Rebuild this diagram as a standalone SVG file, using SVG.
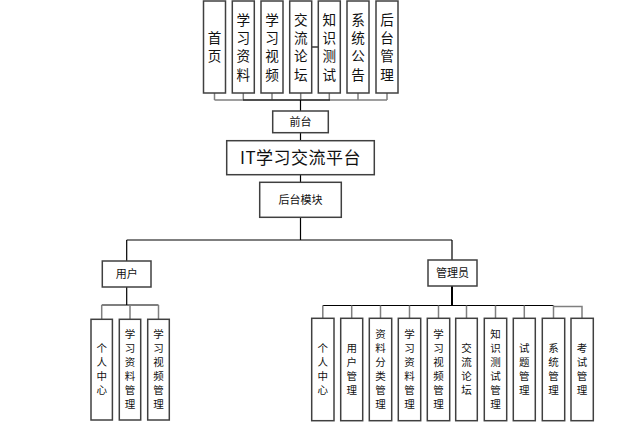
<svg xmlns="http://www.w3.org/2000/svg" width="635" height="432" viewBox="0 0 635 432">
<style>
.box{fill:#fff;stroke:#404040;stroke-width:1.5}
.t{font-family:"Noto Sans CJK SC",sans-serif;fill:#111;text-anchor:middle}
.top{font-size:13.6px}
.mid{font-size:11px}
.big{font-size:17px}
.bot{font-size:10.5px}
.k{stroke:#000;stroke-width:1.2;fill:none}
.g{stroke:#7f7f7f;stroke-width:1.5;fill:none}
</style>
<rect width="635" height="432" fill="#fff"/>
<g id="connectors">
<path class="g" d="M214.5 93V100M243.3 93V100M272 93V100M300.7 93V100M329.3 93V100M358 93V100M387 93V100M214.5 100H387"/>
<path class="k" d="M243 100H330"/>
<path class="k" d="M311.7 47H318.3"/>
<path class="k" d="M300.5 100V111M300.5 132.7V140.7M300.5 174.7V182.3M300.5 217.3V240M126.7 240H452M126.7 240V261M452 240V260"/>
<path class="k" d="M126.7 287V305M101.7 305H158.5"/>
<path class="g" d="M101.7 305V319.3M130 305V319.3M158.5 305V319.3"/>
<path stroke="#000" stroke-width="2" d="M452 286V305"/>
<path class="k" d="M322.8 305.5H553.5"/>
<path class="g" d="M553.5 306.5H582V318.3"/>
<path class="g" d="M322.8 305.5V318.3M351.7 305.5V318.3M380.5 305.5V318.3M409.5 305.5V318.3M438.5 305.5V318.3M466.5 305.5V318.3M495.5 305.5V318.3M524.3 305.5V318.3M553.5 305.5V318.3"/>
</g>
<g id="n-shouye"><rect class="box" x="203.5" y="1" width="22" height="92"/><text class="t top"><tspan x="214.5" y="43">首</tspan><tspan x="214.5" dy="18.3">页</tspan></text></g>
<g id="n-xxzl"><rect class="box" x="232.3" y="1" width="22" height="92"/><text class="t top"><tspan x="243.3" y="24.7">学</tspan><tspan x="243.3" dy="18.3">习</tspan><tspan x="243.3" dy="18.3">资</tspan><tspan x="243.3" dy="18.3">料</tspan></text></g>
<g id="n-xxsp"><rect class="box" x="261" y="1" width="22" height="92"/><text class="t top"><tspan x="272" y="24.7">学</tspan><tspan x="272" dy="18.3">习</tspan><tspan x="272" dy="18.3">视</tspan><tspan x="272" dy="18.3">频</tspan></text></g>
<g id="n-jllt"><rect class="box" x="289.7" y="1" width="22" height="92"/><text class="t top"><tspan x="300.7" y="24.7">交</tspan><tspan x="300.7" dy="18.3">流</tspan><tspan x="300.7" dy="18.3">论</tspan><tspan x="300.7" dy="18.3">坛</tspan></text></g>
<g id="n-zscs"><rect class="box" x="318.3" y="1" width="22" height="92"/><text class="t top"><tspan x="329.3" y="24.7">知</tspan><tspan x="329.3" dy="18.3">识</tspan><tspan x="329.3" dy="18.3">测</tspan><tspan x="329.3" dy="18.3">试</tspan></text></g>
<g id="n-xtgg"><rect class="box" x="347" y="1" width="22" height="92"/><text class="t top"><tspan x="358" y="24.7">系</tspan><tspan x="358" dy="18.3">统</tspan><tspan x="358" dy="18.3">公</tspan><tspan x="358" dy="18.3">告</tspan></text></g>
<g id="n-htgl"><rect class="box" x="376" y="1" width="22" height="92"/><text class="t top"><tspan x="387" y="24.7">后</tspan><tspan x="387" dy="18.3">台</tspan><tspan x="387" dy="18.3">管</tspan><tspan x="387" dy="18.3">理</tspan></text></g>
<g id="n-qiantai"><rect class="box" x="272.7" y="111" width="55.6" height="21.7"/><text class="t mid" x="300.5" y="126">前台</text></g>
<g id="n-root"><rect class="box" x="226.7" y="140.7" width="147.6" height="34"/><text class="t big" x="300.5" y="163.6" letter-spacing="0.5">IT学习交流平台</text></g>
<g id="n-houtai"><rect class="box" x="259.7" y="182.3" width="81.6" height="35"/><text class="t mid" x="300.5" y="203.8">后台模块</text></g>
<g id="n-user"><rect class="box" x="102.3" y="261" width="48.7" height="26"/><text class="t mid" x="126.7" y="278">用户</text></g>
<g id="n-admin"><rect class="box" x="428" y="260" width="49" height="26"/><text class="t mid" x="452.5" y="277">管理员</text></g>
<g id="u1"><rect class="box" x="91" y="319.3" width="21.4" height="100.7"/><text class="t bot"><tspan x="101.7" y="352.4">个</tspan><tspan x="101.7" dy="14">人</tspan><tspan x="101.7" dy="14">中</tspan><tspan x="101.7" dy="14">心</tspan></text></g>
<g id="u2"><rect class="box" x="119.3" y="319.3" width="21.4" height="100.7"/><text class="t bot"><tspan x="130" y="338.4">学</tspan><tspan x="130" dy="14">习</tspan><tspan x="130" dy="14">资</tspan><tspan x="130" dy="14">料</tspan><tspan x="130" dy="14">管</tspan><tspan x="130" dy="14">理</tspan></text></g>
<g id="u3"><rect class="box" x="147.7" y="319.3" width="21.6" height="100.7"/><text class="t bot"><tspan x="158.5" y="338.4">学</tspan><tspan x="158.5" dy="14">习</tspan><tspan x="158.5" dy="14">视</tspan><tspan x="158.5" dy="14">频</tspan><tspan x="158.5" dy="14">管</tspan><tspan x="158.5" dy="14">理</tspan></text></g>
<g id="a1"><rect class="box" x="311.7" y="318.3" width="22.3" height="102.4"/><text class="t bot"><tspan x="322.8" y="352.4">个</tspan><tspan x="322.8" dy="14">人</tspan><tspan x="322.8" dy="14">中</tspan><tspan x="322.8" dy="14">心</tspan></text></g>
<g id="a2"><rect class="box" x="340.7" y="318.3" width="22" height="102.4"/><text class="t bot"><tspan x="351.7" y="352.4">用</tspan><tspan x="351.7" dy="14">户</tspan><tspan x="351.7" dy="14">管</tspan><tspan x="351.7" dy="14">理</tspan></text></g>
<g id="a3"><rect class="box" x="369.3" y="318.3" width="22.4" height="102.4"/><text class="t bot"><tspan x="380.5" y="338.4">资</tspan><tspan x="380.5" dy="14">料</tspan><tspan x="380.5" dy="14">分</tspan><tspan x="380.5" dy="14">类</tspan><tspan x="380.5" dy="14">管</tspan><tspan x="380.5" dy="14">理</tspan></text></g>
<g id="a4"><rect class="box" x="398.3" y="318.3" width="22.4" height="102.4"/><text class="t bot"><tspan x="409.5" y="338.4">学</tspan><tspan x="409.5" dy="14">习</tspan><tspan x="409.5" dy="14">资</tspan><tspan x="409.5" dy="14">料</tspan><tspan x="409.5" dy="14">管</tspan><tspan x="409.5" dy="14">理</tspan></text></g>
<g id="a5"><rect class="box" x="427.3" y="318.3" width="22.4" height="102.4"/><text class="t bot"><tspan x="438.5" y="338.4">学</tspan><tspan x="438.5" dy="14">习</tspan><tspan x="438.5" dy="14">视</tspan><tspan x="438.5" dy="14">频</tspan><tspan x="438.5" dy="14">管</tspan><tspan x="438.5" dy="14">理</tspan></text></g>
<g id="a6"><rect class="box" x="455.7" y="318.3" width="21.6" height="102.4"/><text class="t bot"><tspan x="466.5" y="352.4">交</tspan><tspan x="466.5" dy="14">流</tspan><tspan x="466.5" dy="14">论</tspan><tspan x="466.5" dy="14">坛</tspan></text></g>
<g id="a7"><rect class="box" x="484.3" y="318.3" width="22.4" height="102.4"/><text class="t bot"><tspan x="495.5" y="338.4">知</tspan><tspan x="495.5" dy="14">识</tspan><tspan x="495.5" dy="14">测</tspan><tspan x="495.5" dy="14">试</tspan><tspan x="495.5" dy="14">管</tspan><tspan x="495.5" dy="14">理</tspan></text></g>
<g id="a8"><rect class="box" x="513.3" y="318.3" width="22" height="102.4"/><text class="t bot"><tspan x="524.3" y="352.4">试</tspan><tspan x="524.3" dy="14">题</tspan><tspan x="524.3" dy="14">管</tspan><tspan x="524.3" dy="14">理</tspan></text></g>
<g id="a9"><rect class="box" x="542.3" y="318.3" width="22.4" height="102.4"/><text class="t bot"><tspan x="553.5" y="352.4">系</tspan><tspan x="553.5" dy="14">统</tspan><tspan x="553.5" dy="14">管</tspan><tspan x="553.5" dy="14">理</tspan></text></g>
<g id="a10"><rect class="box" x="571" y="318.3" width="22.3" height="102.4"/><text class="t bot"><tspan x="582" y="352.4">考</tspan><tspan x="582" dy="14">试</tspan><tspan x="582" dy="14">管</tspan><tspan x="582" dy="14">理</tspan></text></g>
</svg>
